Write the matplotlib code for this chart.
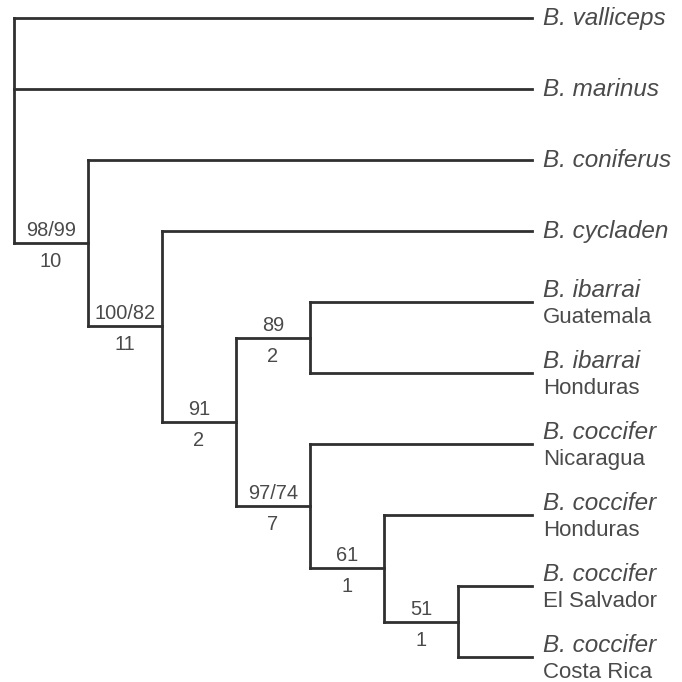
import matplotlib
matplotlib.use('Agg')
import matplotlib.pyplot as plt
import numpy as np

plt.rcParams['font.family'] = ['Liberation Sans', 'DejaVu Sans']

# tips from top to bottom
taxa = ['B. valliceps', 'B. marinus', 'B. coniferus', 'B. cycladen',
        'B. ibarrai', 'B. ibarrai', 'B. coccifer', 'B. coccifer',
        'B. coccifer', 'B. coccifer']
localities = ['', '', '', '', 'Guatemala', 'Honduras', 'Nicaragua',
              'Honduras', 'El Salvador', 'Costa Rica']

# clades: children are tip indices or clade names
clades = {
    'root': [0, 1, 'A'],
    'A': [2, 'B'],
    'B': [3, 'C'],
    'C': ['D', 'E'],
    'D': [4, 5],
    'E': [6, 'F'],
    'F': [7, 'G'],
    'G': [8, 9],
}
support = {'A': '98/99', 'B': '100/82', 'C': '91', 'D': '89',
           'E': '97/74', 'F': '61', 'G': '51'}
decay = {'A': '10', 'B': '11', 'C': '2', 'D': '2',
         'E': '7', 'F': '1', 'G': '1'}

tip_depth = 7
line_col = '#303030'
text_col = '#4a4a4a'
px = 0.72  # points per pixel at dpi 100

fig = plt.figure(figsize=(6.82, 6.82), dpi=100)
ax = fig.add_axes([0, 0, 1, 1])
ax.set_xlim(-14 / 74, (682 - 14) / 74)
ax.set_ylim((682 - 18) / 71, -18 / 71)
ax.axis('off')


def place(node, depth):
    # returns y of node; draws its subtree
    ys = []
    for ch in clades[node]:
        if isinstance(ch, int):
            y, d = ch, tip_depth
        else:
            y, d = place(ch, depth + 1), depth + 1
        ax.plot([depth, d], [y, y], color=line_col, lw=2,
                solid_capstyle='projecting')
        ys.append(y)
        if not isinstance(ch, int):
            xm = (depth + d) / 2
            ax.annotate(support[ch], (xm, y), xytext=(0, 7 * px),
                        textcoords='offset points', ha='center',
                        va='baseline', fontsize=14.4, color=text_col)
            ax.annotate(decay[ch], (xm, y), xytext=(0, -24 * px),
                        textcoords='offset points', ha='center',
                        va='baseline', fontsize=14.4, color=text_col)
    ax.plot([depth, depth], [ys[0], ys[-1]], color=line_col, lw=2,
            solid_capstyle='projecting')
    return (ys[0] + ys[-1]) / 2


place('root', 0)

for i, (t, loc) in enumerate(zip(taxa, localities)):
    if loc:
        ax.annotate(t, (tip_depth, i), xytext=(11 * px, 5 * px),
                    textcoords='offset points', ha='left', va='baseline',
                    fontsize=17.5, style='italic', color=text_col)
        ax.annotate(loc, (tip_depth, i), xytext=(11 * px, -21 * px),
                    textcoords='offset points', ha='left', va='baseline',
                    fontsize=16, color=text_col)
    else:
        ax.annotate(t, (tip_depth, i), xytext=(11 * px, -7 * px),
                    textcoords='offset points', ha='left', va='baseline',
                    fontsize=17.5, style='italic', color=text_col)

fig.savefig('out.png', dpi=100, facecolor='white')
